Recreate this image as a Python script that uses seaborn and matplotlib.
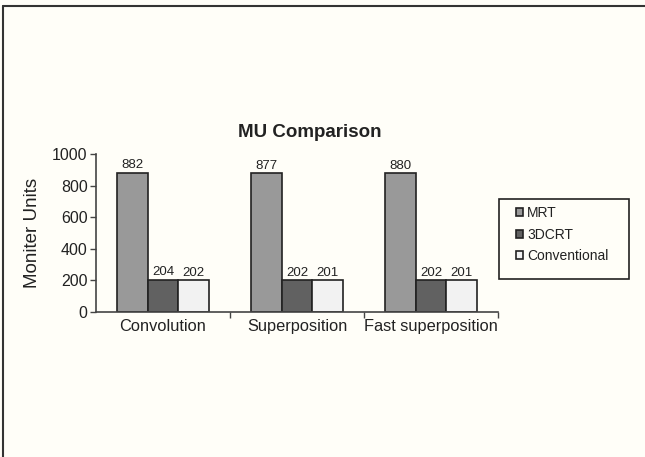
import matplotlib
matplotlib.use("Agg")
import matplotlib.pyplot as plt
from matplotlib.lines import Line2D
from matplotlib.patches import Rectangle
import seaborn as sns
import pandas as pd

# Monitor units per dose-calculation algorithm and technique
algorithms = ["Convolution", "Superposition", "Fast superposition"]
techniques = ["MRT", "3DCRT", "Conventional"]
mrt_mu = [882, 877, 880]
crt3d_mu = [204, 202, 202]
conventional_mu = [202, 201, 201]
y_ticks = [0, 200, 400, 600, 800, 1000]

rows = []
for tech, vals in zip(techniques, [mrt_mu, crt3d_mu, conventional_mu]):
    for alg, v in zip(algorithms, vals):
        rows.append({"Algorithm": alg, "Technique": tech, "MU": v})
df = pd.DataFrame(rows)

bg = "#FFFEF8"
W, H = 645, 457
sns.set_theme(style="white")
plt.rcParams["font.family"] = ["Liberation Sans", "DejaVu Sans"]

fig = plt.figure(figsize=(W / 100, H / 100), dpi=100, facecolor=bg)
ax = fig.add_axes([96 / W, 1 - 312 / H, (498 - 96) / W, (312 - 154) / H])
ax.set_facecolor(bg)

palette = {"MRT": "#999999", "3DCRT": "#616161", "Conventional": "#F2F2F2"}
sns.barplot(data=df, x="Algorithm", y="MU", hue="Technique", order=algorithms,
            hue_order=techniques, palette=palette, width=0.68, gap=0,
            edgecolor="#222222", linewidth=1.2, saturation=1, ax=ax, legend=True)

for cont in ax.containers:
    ax.bar_label(cont, fmt="%d", padding=1, fontsize=9.5, color="#222222")

ax.set_ylim(0, 1000)
ax.set_xlim(-0.5, 2.5)
ax.set_yticks(y_ticks)
ax.tick_params(axis="y", labelsize=11.5, length=4, width=1, color="#444444",
               left=True, pad=2, labelcolor="#222222")
ax.tick_params(axis="x", which="major", length=0, labelsize=11.8, pad=5,
               labelcolor="#222222")
ax.set_xticks([0.5, 1.5, 2.5], minor=True)
ax.tick_params(axis="x", which="minor", bottom=True, length=4, width=1,
               color="#444444", direction="out")
ax.set_xlabel("")
ax.set_ylabel("Moniter Units", fontsize=13.5, color="#222222", labelpad=8)
ax.set_title("MU Comparison", fontsize=13.5, fontweight="bold", color="#222222",
             pad=12, x=(310 - 96) / (498 - 96))

for side in ["top", "right"]:
    ax.spines[side].set_visible(False)
for side in ["left", "bottom"]:
    ax.spines[side].set_color("#444444")
    ax.spines[side].set_linewidth(1.2)

# Legend entries inside a separately drawn box
handles, labels = ax.get_legend_handles_labels()
leg = ax.legend(handles, labels, loc="upper left",
                bbox_to_anchor=(516 / W, 1 - 206 / H), bbox_transform=fig.transFigure,
                borderaxespad=0, borderpad=0, frameon=False, fontsize=10,
                handlelength=0.5, handleheight=0.5, handletextpad=0.3,
                labelspacing=0.55, title=None)
for t in leg.get_texts():
    t.set_color("#222222")
fig.add_artist(Rectangle((499 / W, 1 - 279 / H), (629 - 499) / W, (279 - 199) / H,
                         transform=fig.transFigure, facecolor="none",
                         edgecolor="#222222", linewidth=1.2))

# Page frame along the top and left edges
fig.add_artist(Line2D([3 / W, 1], [1 - 6 / H, 1 - 6 / H], transform=fig.transFigure,
                      color="#333333", linewidth=1.5))
fig.add_artist(Line2D([3 / W, 3 / W], [0, 1 - 6 / H], transform=fig.transFigure,
                      color="#333333", linewidth=1.5))

fig.savefig("out.png", dpi=100, facecolor=bg)
